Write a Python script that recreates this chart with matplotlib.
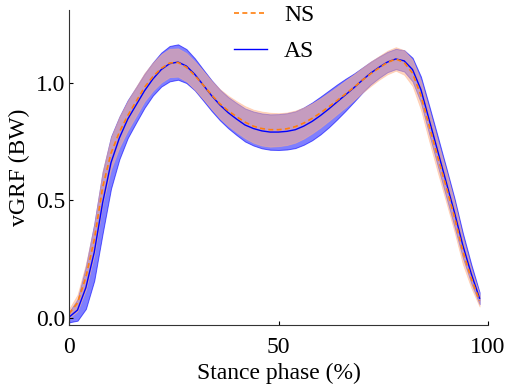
import numpy as np
import matplotlib
matplotlib.use("Agg")
import matplotlib.pyplot as plt

plt.rcParams['font.family'] = ['Liberation Serif', 'DejaVu Serif']

# Stance phase sampled every 2 %
stance = np.arange(0, 100, 2)

# NS group: mean and SD of vGRF (BW)
ns_mean = [0.02, 0.065, 0.175, 0.333, 0.555, 0.70, 0.79, 0.86, 0.92, 0.98,
           1.025, 1.06, 1.083, 1.085, 1.065, 1.03, 0.99, 0.948, 0.91, 0.88,
           0.855, 0.832, 0.815, 0.805, 0.80, 0.80, 0.804, 0.813, 0.828, 0.848,
           0.871, 0.897, 0.924, 0.952, 0.98, 1.01, 1.037, 1.062, 1.085, 1.10,
           1.085, 1.04, 0.945, 0.815, 0.685, 0.56, 0.43, 0.285, 0.17, 0.075]
ns_sd = [0.02, 0.035, 0.055, 0.065, 0.07, 0.068, 0.065, 0.063, 0.062, 0.06,
         0.06, 0.06, 0.06, 0.06, 0.06, 0.06, 0.06, 0.06, 0.062, 0.064,
         0.066, 0.068, 0.07, 0.072, 0.072, 0.07, 0.069, 0.068, 0.066, 0.064,
         0.062, 0.06, 0.058, 0.057, 0.055, 0.053, 0.052, 0.05, 0.05, 0.05,
         0.052, 0.055, 0.06, 0.065, 0.065, 0.065, 0.062, 0.055, 0.04, 0.025]

# AS group: mean and SD of vGRF (BW)
as_mean = [0.005, 0.035, 0.13, 0.28, 0.49, 0.66, 0.765, 0.845, 0.905, 0.965,
           1.015, 1.055, 1.08, 1.087, 1.07, 1.035, 0.99, 0.945, 0.905, 0.872,
           0.845, 0.82, 0.805, 0.795, 0.79, 0.79, 0.793, 0.80, 0.815, 0.835,
           0.86, 0.888, 0.918, 0.948, 0.978, 1.01, 1.04, 1.065, 1.087, 1.10,
           1.092, 1.055, 0.97, 0.84, 0.71, 0.58, 0.45, 0.31, 0.19, 0.085]
as_sd = [0.022, 0.045, 0.09, 0.12, 0.13, 0.11, 0.09, 0.08, 0.075, 0.072,
         0.07, 0.072, 0.075, 0.075, 0.072, 0.068, 0.066, 0.065, 0.065, 0.066,
         0.068, 0.07, 0.072, 0.074, 0.075, 0.076, 0.077, 0.078, 0.079, 0.08,
         0.08, 0.078, 0.074, 0.068, 0.06, 0.053, 0.048, 0.045, 0.043, 0.043,
         0.045, 0.05, 0.055, 0.06, 0.062, 0.062, 0.06, 0.052, 0.04, 0.025]

ns_mean, ns_sd = np.array(ns_mean), np.array(ns_sd)
as_mean, as_sd = np.array(as_mean), np.array(as_sd)

fig = plt.figure(figsize=(5.12, 3.91), dpi=100)
ax = fig.add_axes([0.135, 0.169, 0.818, 0.805])

# AS band and mean first, NS drawn over it
ax.fill_between(stance, as_mean - as_sd, as_mean + as_sd, facecolor=(0, 0, 1, 0.5),
                edgecolor=(0, 0, 1, 0.6), linewidth=0.7)
ax.plot(stance, as_mean, color='blue', lw=1.0, label='AS')
ax.fill_between(stance, ns_mean - ns_sd, ns_mean + ns_sd, facecolor=(1, 0.71, 0.55, 0.55),
                edgecolor=(1, 0.71, 0.55, 0.5), linewidth=0.6)
ax.plot(stance, ns_mean, color='#ff7f0e', lw=1.2, ls='--', dashes=(3, 2), label='NS')

ax.set_xlim(0, 100)
ax.set_ylim(-0.028, 1.307)
ax.set_xticks([0, 50, 100])
ax.set_yticks([0.0, 0.5, 1.0])
ax.set_yticklabels(['0.0', '0.5', '1.0'])
ax.tick_params(direction='in', length=3, labelsize=17, colors='black')
ax.tick_params(axis='x', pad=9)
ax.tick_params(axis='y', pad=3)
for side in ['top', 'right']:
    ax.spines[side].set_visible(False)
for side in ['left', 'bottom']:
    ax.spines[side].set_color('#333333')

ax.set_xlabel('Stance phase (%)', fontsize=17, labelpad=3)
ax.set_ylabel('vGRF (BW)', fontsize=17, labelpad=4)

handles, labels = ax.get_legend_handles_labels()
ax.legend(handles[::-1], labels[::-1], loc='upper center', bbox_to_anchor=(0.49, 1.085),
          frameon=False, fontsize=17, handlelength=1.4, labelspacing=0.6, handletextpad=0.7)

fig.savefig('out.png', dpi=100)
